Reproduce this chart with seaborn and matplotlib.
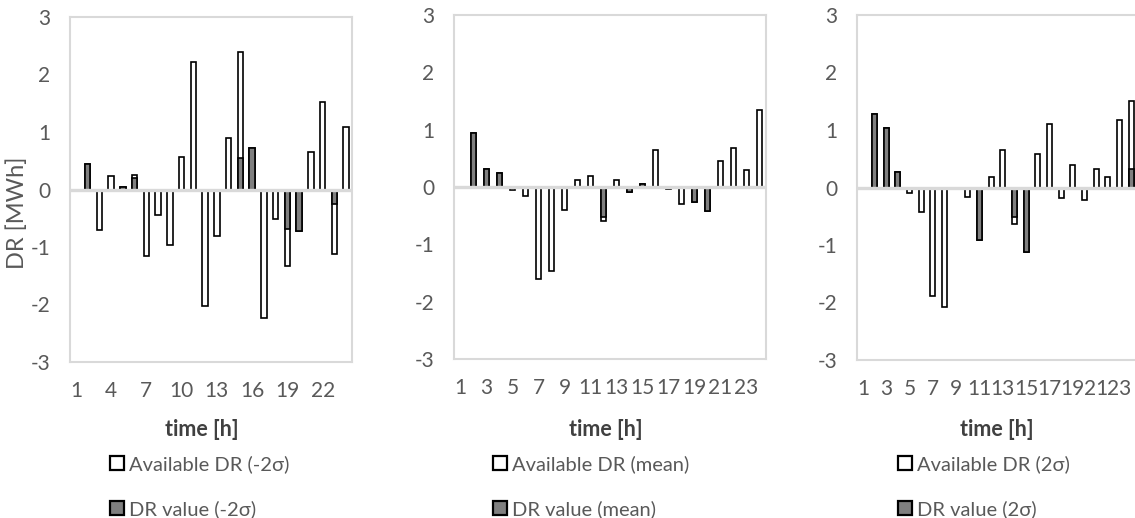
import matplotlib
matplotlib.use("Agg")
import matplotlib.pyplot as plt
import matplotlib.patches as mpatches
import seaborn as sns
import pandas as pd

sns.set_theme(style="white")
plt.rcParams['font.family'] = ['Lato', 'DejaVu Sans']

hours = [str(h) for h in range(1, 25)]

# Panel 1: -2 sigma
avail_m2 = [0.0, 0.44, -0.70, 0.23, 0.04, 0.25, -1.16, -0.44, -0.96, 0.57, 2.21, -2.03,
            -0.80, 0.89, 2.40, 0.72, -2.24, -0.51, -1.33, -0.73, 0.66, 1.52, -1.12, 1.08]
value_m2 = [0.0, 0.44, 0.0, 0.0, 0.04, 0.20, 0.0, 0.0, 0.0, 0.0, 0.0, 0.0,
            0.0, 0.0, 0.55, 0.72, 0.0, 0.0, -0.69, -0.73, 0.0, 0.0, -0.25, 0.0]

# Panel 2: mean
avail_mean = [0.0, 0.94, 0.32, 0.24, -0.05, -0.15, -1.60, -1.47, -0.40, 0.12, 0.19, -0.60,
              0.13, -0.09, 0.06, 0.64, -0.03, -0.29, -0.26, -0.41, 0.45, 0.68, 0.30, 1.34]
value_mean = [0.0, 0.94, 0.32, 0.24, 0.0, 0.0, 0.0, 0.0, 0.0, 0.0, 0.0, -0.52,
              0.0, -0.09, 0.06, 0.0, 0.0, 0.0, -0.26, -0.41, 0.0, 0.0, 0.0, 0.0]

# Panel 3: +2 sigma
avail_p2 = [0.0, 1.27, 1.03, 0.27, -0.09, -0.43, -1.89, -2.08, -0.03, -0.17, -0.92, 0.19,
            0.65, -0.64, -1.13, 0.59, 1.10, -0.19, 0.39, -0.21, 0.33, 0.19, 1.18, 1.50]
value_p2 = [0.0, 1.27, 1.03, 0.27, 0.0, 0.0, 0.0, 0.0, 0.0, 0.0, -0.92, 0.0,
            0.0, -0.51, -1.13, 0.0, 0.0, 0.0, 0.0, 0.0, 0.0, 0.0, 0.0, 0.33]

labels_avail = ["Available DR (-2σ)", "Available DR (mean)", "Available DR (2σ)"]
labels_value = ["DR value (-2σ)", "DR value (mean)", "DR value (2σ)"]

TXT = "#595959"
GRID = "#d9d9d9"
GREY = "#7f7f7f"

fig = plt.figure(figsize=(11.35, 5.18), dpi=100)
W, H = 1135, 518

panels = [
    dict(left=70, right=352, top=17, bottom=362, step=3, avail=avail_m2, value=value_m2,
         xl=0.468, leg_x=110, ylabel=True),
    dict(left=454, right=766, top=15, bottom=359, step=2, avail=avail_mean, value=value_mean,
         xl=0.487, leg_x=493, ylabel=False),
    dict(left=857, right=1137, top=15, bottom=360, step=2, avail=avail_p2, value=value_p2,
         xl=0.5, leg_x=898, ylabel=False),
]

for i, p in enumerate(panels):
    ax = fig.add_axes([p['left'] / W, (H - p['bottom']) / H,
                       (p['right'] - p['left']) / W, (p['bottom'] - p['top']) / H])
    df = pd.DataFrame({"hour": hours, "avail": p['avail'], "value": p['value']})
    sns.barplot(data=df, x="hour", y="avail", order=hours, color="white", saturation=1,
                edgecolor="black", linewidth=1.2, width=0.45, ax=ax, zorder=2)
    sns.barplot(data=df, x="hour", y="value", order=hours, color=GREY, saturation=1,
                edgecolor="black", linewidth=1.2, width=0.45, ax=ax, zorder=3)
    ax.axhline(0, color=GRID, lw=2.4, zorder=5)
    ax.set_xlim(-0.5, 23.5)
    ax.set_ylim(-3, 3)
    ax.set_yticks([-3, -2, -1, 0, 1, 2, 3])
    ax.set_yticklabels(["-3", "-2", "-1", "0", "1", "2", "3"])
    xt = list(range(0, 24, p['step']))
    ax.set_xticks(xt)
    ax.set_xticklabels([hours[k] for k in xt])
    ax.tick_params(axis='both', length=0, labelsize=15, labelcolor=TXT)
    ax.tick_params(axis='x', pad=14)
    ax.tick_params(axis='y', pad=14)
    for s in ax.spines.values():
        s.set_visible(True)
        s.set_color(GRID)
        s.set_linewidth(1.5)
    ax.set_xlabel("time [h]", fontsize=15.5, fontweight="bold", color="#404040")
    hgt = p['bottom'] - p['top']
    ax.xaxis.set_label_coords(p['xl'], (p['bottom'] - 430) / hgt)
    ax.xaxis.label.set_va("center")
    if p['ylabel']:
        ax.set_ylabel("DR [MWh]", fontsize=17, color=TXT)
        ax.yaxis.set_label_coords((17 - p['left']) / (p['right'] - p['left']),
                                  (p['bottom'] - 213) / hgt)
        ax.yaxis.label.set_va("center")
    else:
        ax.set_ylabel("")
    handles = [mpatches.Patch(facecolor="white", edgecolor="black", linewidth=1.6, label=labels_avail[i]),
               mpatches.Patch(facecolor=GREY, edgecolor="black", linewidth=1.6, label=labels_value[i])]
    leg = fig.legend(handles=handles, loc="upper left",
                     bbox_to_anchor=(p['leg_x'] / W, (H - 455) / H),
                     bbox_transform=fig.transFigure, frameon=False, fontsize=14.5,
                     handlelength=0.7, handleheight=0.7, handletextpad=0.25,
                     labelspacing=1.35, borderpad=0, borderaxespad=0)
    for t in leg.get_texts():
        t.set_color(TXT)

fig.savefig("out.png", dpi=100)
